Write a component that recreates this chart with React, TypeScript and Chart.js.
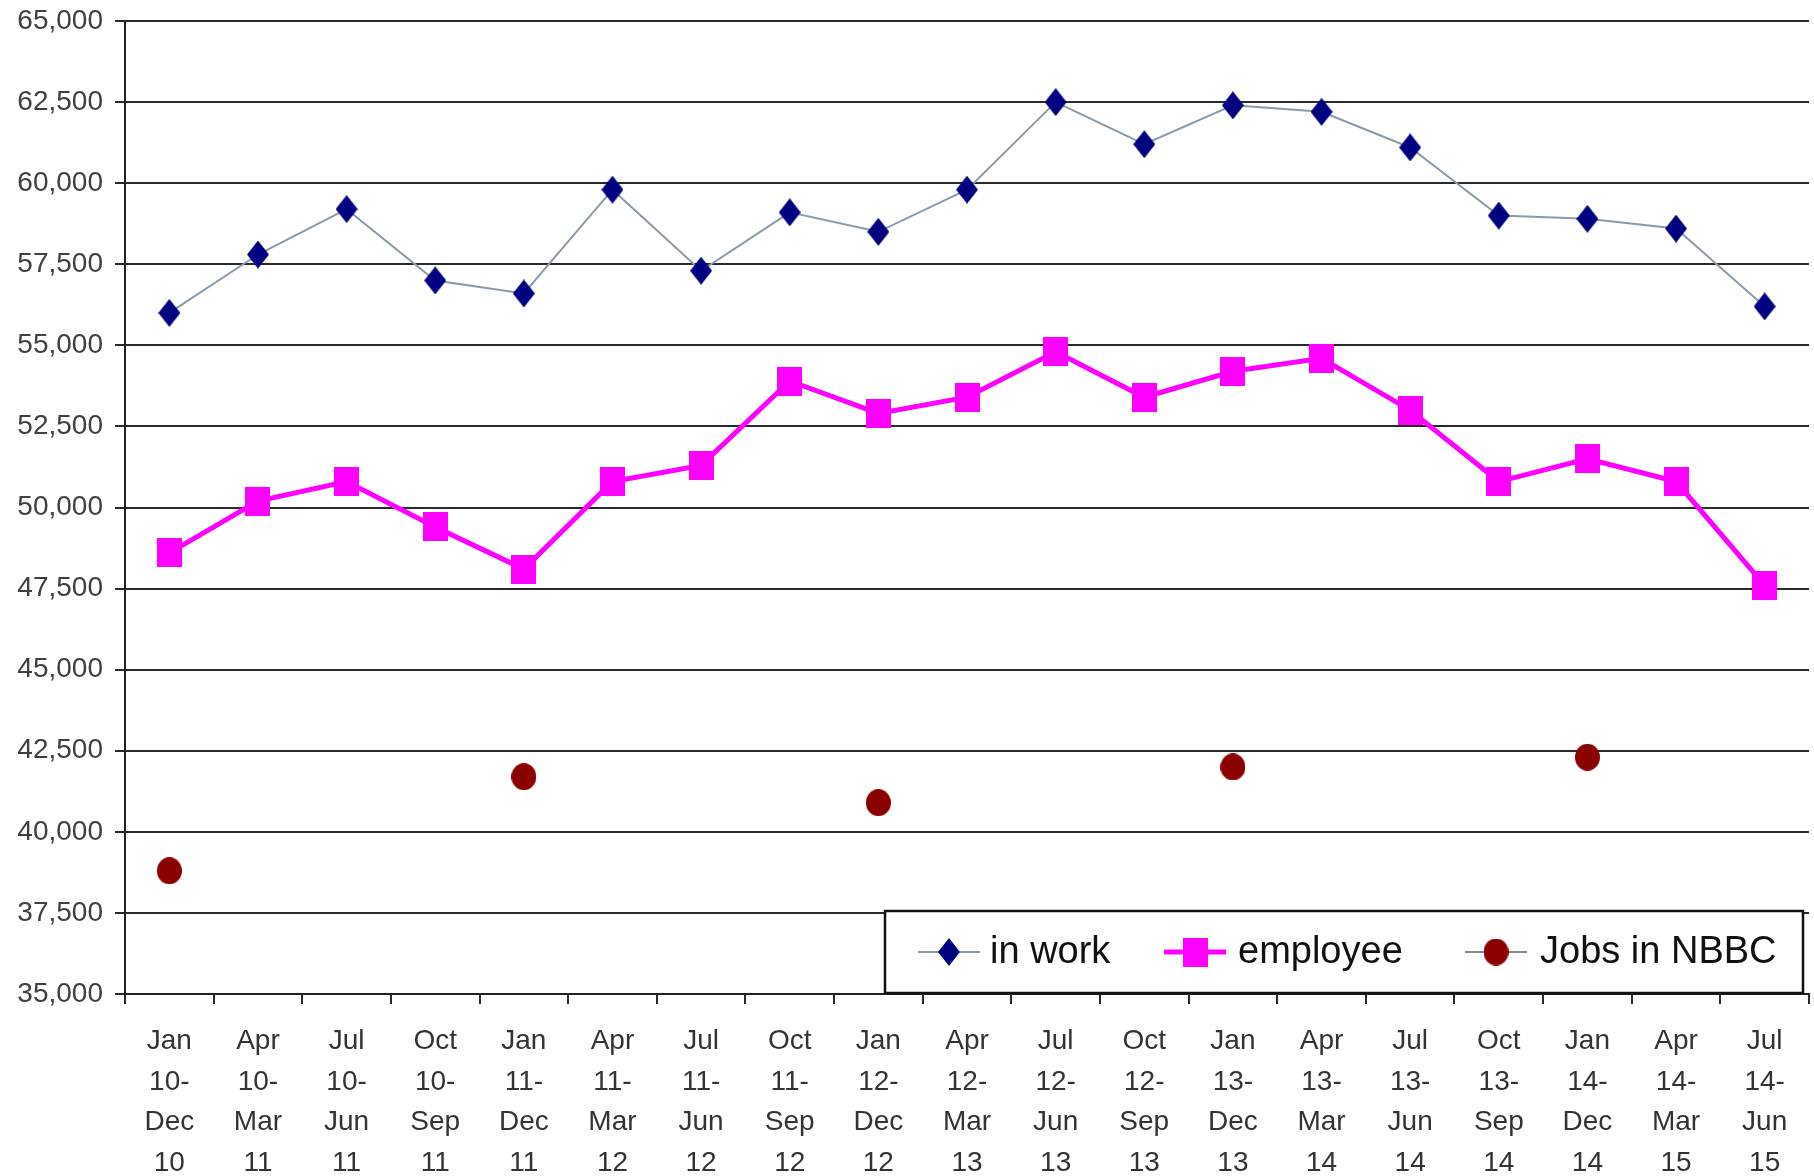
import React, { useEffect, useRef } from "react";
import { Chart, registerables } from "chart.js";

Chart.register(...registerables);

const categories: string[][] = [
  ["Jan", "10-", "Dec", "10"],
  ["Apr", "10-", "Mar", "11"],
  ["Jul", "10-", "Jun", "11"],
  ["Oct", "10-", "Sep", "11"],
  ["Jan", "11-", "Dec", "11"],
  ["Apr", "11-", "Mar", "12"],
  ["Jul", "11-", "Jun", "12"],
  ["Oct", "11-", "Sep", "12"],
  ["Jan", "12-", "Dec", "12"],
  ["Apr", "12-", "Mar", "13"],
  ["Jul", "12-", "Jun", "13"],
  ["Oct", "12-", "Sep", "13"],
  ["Jan", "13-", "Dec", "13"],
  ["Apr", "13-", "Mar", "14"],
  ["Jul", "13-", "Jun", "14"],
  ["Oct", "13-", "Sep", "14"],
  ["Jan", "14-", "Dec", "14"],
  ["Apr", "14-", "Mar", "15"],
  ["Jul", "14-", "Jun", "15"],
];

const inWork = [56000, 57800, 59200, 57000, 56600, 59800, 57300, 59100, 58500, 59800, 62500, 61200, 62400, 62200, 61100, 59000, 58900, 58600, 56200];
const employee = [48600, 50200, 50800, 49400, 48100, 50800, 51300, 53900, 52900, 53400, 54800, 53400, 54200, 54600, 53000, 50800, 51500, 50800, 47600];
const jobsNBBC: (number | null)[] = [38800, null, null, null, 41700, null, null, null, 40900, null, null, null, 42000, null, null, null, 42300, null, null];

const seriesNames = ["in work", "employee", "Jobs in NBBC"];
const yMin = 35000;
const yMax = 65000;
const yStep = 2500;

const FONT = "'Liberation Sans', Arial, sans-serif";

function makeMarker(kind: string, w: number, h: number, color: string): HTMLCanvasElement {
  const c = document.createElement("canvas");
  c.width = w;
  c.height = h;
  const ctx = c.getContext("2d") as CanvasRenderingContext2D;
  ctx.fillStyle = color;
  ctx.beginPath();
  if (kind === "diamond") {
    ctx.moveTo(w / 2, 0);
    ctx.lineTo(w, h / 2);
    ctx.lineTo(w / 2, h);
    ctx.lineTo(0, h / 2);
    ctx.closePath();
  } else if (kind === "rect") {
    ctx.rect(0, 0, w, h);
  } else {
    ctx.ellipse(w / 2, h / 2, w / 2, h / 2, 0, 0, Math.PI * 2);
  }
  ctx.fill();
  return c;
}

export default function App() {
  const ref = useRef<HTMLCanvasElement | null>(null);

  useEffect(() => {
    if (!ref.current) return;
    const diamond = makeMarker("diamond", 22, 28, "#000080");
    const square = makeMarker("rect", 25, 29, "#ff00ff");
    const dot = makeMarker("circle", 25, 27, "#8b0000");

    const legendPlugin = {
      id: "boxLegend",
      afterDraw(chart: any) {
        const ctx: CanvasRenderingContext2D = chart.ctx;
        const area = chart.chartArea;
        const w = 918;
        const h = 82;
        const left = area.right - 6 - w;
        const top = area.bottom - h - 1;
        ctx.save();
        ctx.fillStyle = "#ffffff";
        ctx.fillRect(left, top, w, h);
        ctx.strokeStyle = "#111111";
        ctx.lineWidth = 2.5;
        ctx.strokeRect(left, top, w, h);
        const cy = top + h / 2;
        const items = [
          { lx: 33, mx: 64, tx: 105, line: "#8a9aa8", lw: 2, img: diamond },
          { lx: 279, mx: 310, tx: 353, line: "#ff00ff", lw: 5, img: square },
          { lx: 580, mx: 611, tx: 655, line: "#8a8a8a", lw: 2, img: dot },
        ];
        items.forEach((it, i) => {
          ctx.strokeStyle = it.line;
          ctx.lineWidth = it.lw;
          ctx.beginPath();
          ctx.moveTo(left + it.lx, cy);
          ctx.lineTo(left + it.lx + 62, cy);
          ctx.stroke();
          ctx.drawImage(it.img, left + it.mx - it.img.width / 2, cy - it.img.height / 2);
          ctx.fillStyle = "#111111";
          ctx.font = `38px ${FONT}`;
          ctx.textBaseline = "middle";
          ctx.textAlign = "left";
          ctx.fillText(seriesNames[i], left + it.tx, cy + 1);
        });
        ctx.restore();
      },
    };

    const chart = new Chart(ref.current, {
      type: "line",
      data: {
        labels: categories,
        datasets: [
          {
            label: seriesNames[0],
            data: inWork,
            borderColor: "#8a9aa8",
            borderWidth: 2,
            pointStyle: diamond,
            pointRadius: 14,
            tension: 0,
          },
          {
            label: seriesNames[1],
            data: employee,
            borderColor: "#ff00ff",
            borderWidth: 5,
            pointStyle: square,
            pointRadius: 15,
            tension: 0,
          },
          {
            label: seriesNames[2],
            data: jobsNBBC,
            borderColor: "#8a8a8a",
            borderWidth: 2,
            pointStyle: dot,
            pointRadius: 14,
            spanGaps: false,
            tension: 0,
          },
        ],
      },
      options: {
        responsive: false,
        animation: false,
        layout: { padding: { left: 0, right: 3, top: 21, bottom: 0 } },
        plugins: {
          legend: { display: false },
          tooltip: { enabled: false },
        },
        scales: {
          x: {
            offset: true,
            grid: {
              offset: true,
              drawOnChartArea: false,
              drawTicks: true,
              tickLength: 10,
              color: "#2a2a2a",
              lineWidth: 2,
            },
            border: { display: true, color: "#222222", width: 2 },
            ticks: {
              color: "#333333",
              font: { family: FONT, size: 28, lineHeight: 1.45 },
              padding: 17,
              maxRotation: 0,
              autoSkip: false,
            },
            afterFit: (scale: any) => {
              scale.height = 182;
              scale.paddingLeft = 0;
              scale.paddingRight = 0;
            },
          },
          y: {
            min: yMin,
            max: yMax,
            grid: {
              drawTicks: true,
              tickLength: 10,
              color: "#2a2a2a",
              lineWidth: 2,
            },
            border: { display: true, color: "#222222", width: 2 },
            ticks: {
              stepSize: yStep,
              color: "#404040",
              font: { family: FONT, size: 28 },
              padding: 12,
              callback: (v: any) => Number(v).toLocaleString("en-US"),
            },
            afterFit: (scale: any) => {
              scale.width = 125;
              scale.paddingTop = 0;
              scale.paddingBottom = 0;
            },
          },
        },
      },
      plugins: [legendPlugin],
    });
    return () => chart.destroy();
  }, []);

  return (
    <div style={{ position: "fixed", left: 0, top: 0, width: 1814, height: 1176, overflow: "hidden", background: "#ffffff" }}>
      <canvas ref={ref} width={1829} height={1176} style={{ display: "block" }} />
    </div>
  );
}
